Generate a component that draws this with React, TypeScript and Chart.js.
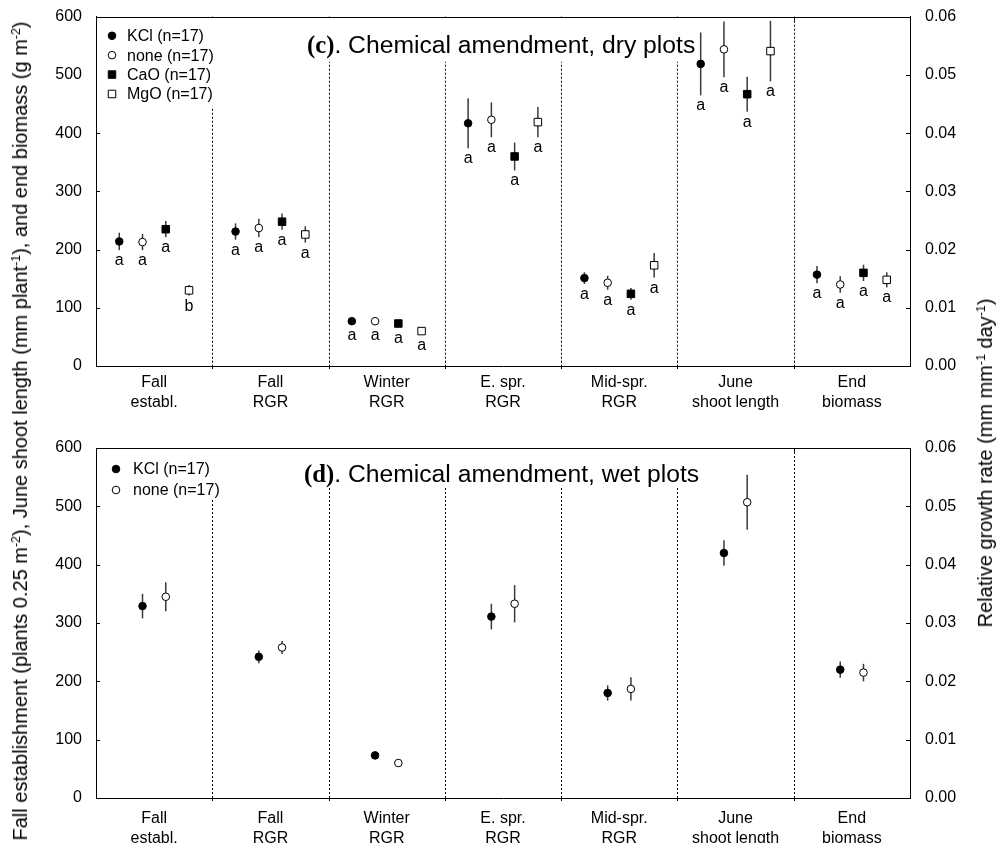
import React, { useEffect, useRef } from "react";
import { Chart, registerables } from "chart.js";

Chart.register(...registerables);

// ---------- DATA ----------
const categories: string[][] = [
  ["Fall", "establ."],
  ["Fall", "RGR"],
  ["Winter", "RGR"],
  ["E. spr.", "RGR"],
  ["Mid-spr.", "RGR"],
  ["June", "shoot length"],
  ["End", "biomass"],
];
// categories measured on the right axis (relative growth rate)
const onRightAxis = [false, true, true, true, true, false, false];

const leftTicks = [0, 100, 200, 300, 400, 500, 600];
const rightTicks = [0, 0.01, 0.02, 0.03, 0.04, 0.05, 0.06];
const rightTickLabels = ["0.00", "0.01", "0.02", "0.03", "0.04", "0.05", "0.06"];

const seriesNames = ["KCl (n=17)", "none (n=17)", "CaO (n=17)", "MgO (n=17)"];

// (c) dry plots
const dryKClMean = [214, 0.0231, 0.0077, 0.0417, 0.0151, 519, 157];
const dryKClErr = [15, 0.0014, 0.0002, 0.0043, 0.001, 54, 15];
const dryKClLetters = ["a", "a", "a", "a", "a", "a", "a"];

const dryNoneMean = [213, 0.0237, 0.0077, 0.0423, 0.0143, 544, 140];
const dryNoneErr = [14, 0.0016, 0.0002, 0.003, 0.0012, 48, 14];
const dryNoneLetters = ["a", "a", "a", "a", "a", "a", "a"];

const dryCaOMean = [235, 0.0248, 0.0073, 0.036, 0.0124, 467, 160];
const dryCaOErr = [14, 0.0014, 0.0002, 0.0024, 0.001, 30, 14];
const dryCaOLetters = ["a", "a", "a", "a", "a", "a", "a"];

const dryMgOMean = [130, 0.0226, 0.006, 0.0419, 0.0173, 541, 148];
const dryMgOErr = [9, 0.0014, 0.0002, 0.0026, 0.0021, 52, 13];
const dryMgOLetters = ["b", "a", "a", "a", "a", "a", "a"];

// (d) wet plots
const wetKClMean = [329, 0.0242, 0.0073, 0.0311, 0.018, 420, 220];
const wetKClErr = [21, 0.0011, 0.0002, 0.0022, 0.0013, 22, 14];

const wetNoneMean = [345, 0.0258, 0.006, 0.0333, 0.0187, 507, 215];
const wetNoneErr = [25, 0.0011, 0.0002, 0.0032, 0.002, 47, 15];

// ---------- STYLE / LAYOUT ----------
const FONT = '"Liberation Sans", Arial, Helvetica, sans-serif';
Chart.defaults.font.family = FONT;
Chart.defaults.color = "#000";

type Series = {
  name: string;
  mean: number[];
  err: number[];
  letters?: string[];
  shape: "circle" | "rect";
  filled: boolean;
};

type Panel = {
  height: number;
  padTop: number;
  xAxisHeight: number;
  xLabelPad: number;
  tag: string;
  titleRest: string;
  titleX: number;
  titleBaseline: number;
  titleBoxBottom: number;
  series: Series[];
  offsets: number[];
  legendMarkerX: number;
  legendTextX: number;
  legendFirstY: number;
  legendStep: number;
  legendBoxBottom: number;
};

const panels: Panel[] = [
  {
    height: 420,
    padTop: 16,
    xAxisHeight: 54,
    xLabelPad: -1,
    tag: "(c)",
    titleRest: ". Chemical amendment, dry plots",
    titleX: 307,
    titleBaseline: 36,
    titleBoxBottom: 44,
    series: [
      { name: seriesNames[0], mean: dryKClMean, err: dryKClErr, letters: dryKClLetters, shape: "circle", filled: true },
      { name: seriesNames[1], mean: dryNoneMean, err: dryNoneErr, letters: dryNoneLetters, shape: "circle", filled: false },
      { name: seriesNames[2], mean: dryCaOMean, err: dryCaOErr, letters: dryCaOLetters, shape: "rect", filled: true },
      { name: seriesNames[3], mean: dryMgOMean, err: dryMgOErr, letters: dryMgOLetters, shape: "rect", filled: false },
    ],
    offsets: [-0.3, -0.1, 0.1, 0.3],
    legendMarkerX: 16,
    legendTextX: 31,
    legendFirstY: 19,
    legendStep: 19.4,
    legendBoxBottom: 89,
  },
  {
    height: 423,
    padTop: 28,
    xAxisHeight: 45,
    xLabelPad: 3,
    tag: "(d)",
    titleRest: ". Chemical amendment, wet plots",
    titleX: 304,
    titleBaseline: 34,
    titleBoxBottom: 39,
    series: [
      { name: seriesNames[0], mean: wetKClMean, err: wetKClErr, shape: "circle", filled: true },
      { name: seriesNames[1], mean: wetNoneMean, err: wetNoneErr, shape: "circle", filled: false },
    ],
    offsets: [-0.1, 0.1],
    legendMarkerX: 20,
    legendTextX: 37,
    legendFirstY: 21,
    legendStep: 21,
    legendBoxBottom: 50,
  },
];

const CIRCLE_R = 3.8;
const RECT_R = 5.3;
const TITLE_SIZE = 24.7;

function drawMarker(ctx: CanvasRenderingContext2D, shape: string, filled: boolean, x: number, y: number) {
  ctx.save();
  ctx.setLineDash([]);
  ctx.lineWidth = 1;
  ctx.strokeStyle = "#000";
  ctx.fillStyle = filled ? "#000" : "#fff";
  ctx.beginPath();
  if (shape === "circle") {
    ctx.arc(x, y, CIRCLE_R, 0, Math.PI * 2);
  } else {
    const s = RECT_R * Math.SQRT1_2;
    ctx.rect(x - s, y - s, 2 * s, 2 * s);
  }
  ctx.fill();
  ctx.stroke();
  ctx.restore();
}

function makePlugin(panel: Panel) {
  return {
    id: "panelDecor",
    beforeDatasetsDraw(chart: any) {
      const { ctx, chartArea: ca, scales } = chart;
      const xs = scales.x;
      const ys = scales.y;
      const y1 = scales.y1;
      ctx.save();
      // dotted dividers between groups
      ctx.strokeStyle = "#000";
      ctx.lineWidth = 1;
      ctx.setLineDash([2, 2]);
      for (let i = 0; i < categories.length - 1; i++) {
        const px = Math.round(xs.getPixelForValue(i + 0.5)) + 0.5;
        ctx.beginPath();
        ctx.moveTo(px, ca.top);
        ctx.lineTo(px, ca.bottom);
        ctx.stroke();
      }
      ctx.setLineDash([]);
      // small ticks at group boundaries (top & bottom)
      for (let i = 0; i < categories.length - 1; i++) {
        const px = Math.round(xs.getPixelForValue(i + 0.5)) + 0.5;
        ctx.beginPath();
        ctx.moveTo(px, ca.top);
        ctx.lineTo(px, ca.top + 4);
        ctx.moveTo(px, ca.bottom);
        ctx.lineTo(px, ca.bottom + 3);
        ctx.stroke();
      }
      // inward y ticks
      for (const v of leftTicks) {
        const py = Math.round(ys.getPixelForValue(v)) + 0.5;
        ctx.beginPath();
        ctx.moveTo(ca.left, py);
        ctx.lineTo(ca.left + 4, py);
        ctx.stroke();
      }
      for (const v of rightTicks) {
        const py = Math.round(y1.getPixelForValue(v)) + 0.5;
        ctx.beginPath();
        ctx.moveTo(ca.right, py);
        ctx.lineTo(ca.right - 4, py);
        ctx.stroke();
      }

      // title with white background
      const tagFont = "bold " + TITLE_SIZE + 'px "Liberation Serif", "Times New Roman", serif';
      const restFont = TITLE_SIZE + "px " + FONT;
      ctx.font = tagFont;
      const w1 = ctx.measureText(panel.tag).width;
      ctx.font = restFont;
      const w2 = ctx.measureText(panel.titleRest).width;
      const tx = panel.titleX;
      const tb = ca.top + panel.titleBaseline;
      ctx.fillStyle = "#fff";
      ctx.fillRect(tx - 6, ca.top + 1, w1 + w2 + 9, panel.titleBoxBottom);
      ctx.fillStyle = "#000";
      ctx.textBaseline = "alphabetic";
      ctx.textAlign = "left";
      ctx.font = tagFont;
      ctx.fillText(panel.tag, tx, tb);
      ctx.font = restFont;
      ctx.fillText(panel.titleRest, tx + w1, tb);

      // legend with white background
      ctx.fillStyle = "#fff";
      ctx.fillRect(ca.left + 1, ca.top + 1, 128, panel.legendBoxBottom);
      ctx.font = "16px " + FONT;
      ctx.textBaseline = "middle";
      panel.series.forEach((s, k) => {
        const ly = ca.top + panel.legendFirstY + k * panel.legendStep;
        drawMarker(ctx, s.shape, s.filled, ca.left + panel.legendMarkerX, ly);
        ctx.fillStyle = "#000";
        ctx.fillText(s.name, ca.left + panel.legendTextX, ly + 1);
      });

      // error bars
      ctx.strokeStyle = "#3a3a3a";
      ctx.lineWidth = 1.5;
      chart.data.datasets.forEach((ds: any) => {
        const scale = ds.yAxisID === "y1" ? y1 : ys;
        ds.data.forEach((d: any) => {
          const px = xs.getPixelForValue(d.x);
          const top = scale.getPixelForValue(d.y + d.err);
          const bot = scale.getPixelForValue(d.y - d.err);
          ctx.beginPath();
          ctx.moveTo(px, Math.max(top, ca.top));
          ctx.lineTo(px, bot);
          ctx.stroke();
        });
      });
      ctx.restore();
    },
    afterDatasetsDraw(chart: any) {
      const { ctx, scales } = chart;
      const xs = scales.x;
      ctx.save();
      ctx.fillStyle = "#000";
      ctx.font = "16px " + FONT;
      ctx.textAlign = "center";
      ctx.textBaseline = "alphabetic";
      chart.data.datasets.forEach((ds: any) => {
        const scale = ds.yAxisID === "y1" ? scales.y1 : scales.y;
        ds.data.forEach((d: any) => {
          if (!d.letter) return;
          const px = xs.getPixelForValue(d.x);
          const c = scale.getPixelForValue(d.y);
          const bot = Math.max(scale.getPixelForValue(d.y - d.err), c + 4);
          ctx.fillText(d.letter, px, bot + 15);
        });
      });
      ctx.restore();
    },
    afterDraw(chart: any) {
      const { ctx, chartArea: ca } = chart;
      ctx.save();
      ctx.strokeStyle = "#000";
      ctx.lineWidth = 1;
      ctx.beginPath();
      ctx.moveTo(ca.left, Math.round(ca.top) + 0.5);
      ctx.lineTo(ca.right, Math.round(ca.top) + 0.5);
      ctx.stroke();
      ctx.restore();
    },
  };
}

function buildChart(canvas: HTMLCanvasElement, panel: Panel) {
  const datasets: any[] = [];
  panel.series.forEach((s, k) => {
    for (const side of ["y", "y1"]) {
      const data = s.mean
        .map((m, i) => ({
          x: i + panel.offsets[k],
          y: m,
          err: s.err[i],
          letter: s.letters ? s.letters[i] : undefined,
          cat: i,
        }))
        .filter((d) => onRightAxis[d.cat] === (side === "y1"));
      datasets.push({
        label: s.name,
        yAxisID: side,
        data,
        showLine: false,
        pointStyle: s.shape,
        pointRadius: s.shape === "circle" ? CIRCLE_R : RECT_R,
        pointHoverRadius: s.shape === "circle" ? CIRCLE_R : RECT_R,
        pointBackgroundColor: s.filled ? "#000" : "#fff",
        pointBorderColor: "#000",
        pointBorderWidth: 1,
      });
    }
  });

  const tickFont = { family: FONT, size: 16, lineHeight: 1.22 };

  return new Chart(canvas, {
    type: "scatter",
    data: { datasets },
    options: {
      animation: false,
      responsive: false,
      devicePixelRatio: 1,
      layout: { padding: { top: panel.padTop, left: 0, right: 0, bottom: 0 } },
      plugins: {
        legend: { display: false },
        tooltip: { enabled: false },
        title: { display: false },
      },
      scales: {
        x: {
          type: "linear",
          min: -0.5,
          max: 6.5,
          afterBuildTicks: (s: any) => {
            s.ticks = categories.map((_, i) => ({ value: i }));
          },
          afterFit: (s: any) => {
            s.height = panel.xAxisHeight;
          },
          ticks: {
            autoSkip: false,
            maxRotation: 0,
            minRotation: 0,
            padding: panel.xLabelPad,
            color: "#000",
            font: tickFont,
            callback: (_v: any, i: number) => categories[i],
          },
          grid: { display: false },
          border: { display: true, color: "#000", width: 1 },
        },
        y: {
          type: "linear",
          position: "left",
          min: 0,
          max: 600,
          afterBuildTicks: (s: any) => {
            s.ticks = leftTicks.map((v) => ({ value: v }));
          },
          afterFit: (s: any) => {
            s.width = 96;
          },
          ticks: {
            padding: 6,
            color: "#000",
            font: tickFont,
            callback: (_v: any, i: number) => String(leftTicks[i]),
          },
          grid: { display: false },
          border: { display: true, color: "#000", width: 1 },
        },
        y1: {
          type: "linear",
          position: "right",
          min: 0,
          max: 0.06,
          afterBuildTicks: (s: any) => {
            s.ticks = rightTicks.map((v) => ({ value: v }));
          },
          afterFit: (s: any) => {
            s.width = 87;
          },
          ticks: {
            padding: 7,
            color: "#000",
            font: tickFont,
            callback: (_v: any, i: number) => rightTickLabels[i],
          },
          grid: { display: false },
          border: { display: true, color: "#000", width: 1 },
        },
      },
    } as any,
    plugins: [makePlugin(panel) as any],
  });
}

export default function App() {
  const c1 = useRef<HTMLCanvasElement>(null);
  const c2 = useRef<HTMLCanvasElement>(null);

  useEffect(() => {
    const a = buildChart(c1.current!, panels[0]);
    const b = buildChart(c2.current!, panels[1]);
    return () => {
      a.destroy();
      b.destroy();
    };
  }, []);

  const sup: React.CSSProperties = { fontSize: "0.62em", verticalAlign: "0.6em", lineHeight: 0 };

  return (
    <div
      style={{
        position: "absolute",
        left: 0,
        top: 0,
        width: 997,
        height: 843,
        background: "#fff",
        overflow: "hidden",
        fontFamily: FONT,
        color: "#000",
      }}
    >
      <canvas ref={c1} width={997} height={420} style={{ position: "absolute", left: 0, top: 0 }} />
      <canvas ref={c2} width={997} height={423} style={{ position: "absolute", left: 0, top: 420 }} />
      <div
        style={{
          position: "absolute",
          left: 20,
          top: 431,
          transform: "translate(-50%, -50%) rotate(-90deg)",
          whiteSpace: "nowrap",
          fontSize: 20,
          lineHeight: "22px",
        }}
      >
        Fall establishment (plants 0.25 m<span style={sup}>-2</span>), June shoot length (mm plant
        <span style={sup}>-1</span>), and end biomass (g m<span style={sup}>-2</span>)
      </div>
      <div
        style={{
          position: "absolute",
          left: 985,
          top: 463,
          transform: "translate(-50%, -50%) rotate(-90deg)",
          whiteSpace: "nowrap",
          fontSize: 20,
          lineHeight: "22px",
        }}
      >
        Relative growth rate (mm mm<span style={sup}>-1</span> day<span style={sup}>-1</span>)
      </div>
    </div>
  );
}
